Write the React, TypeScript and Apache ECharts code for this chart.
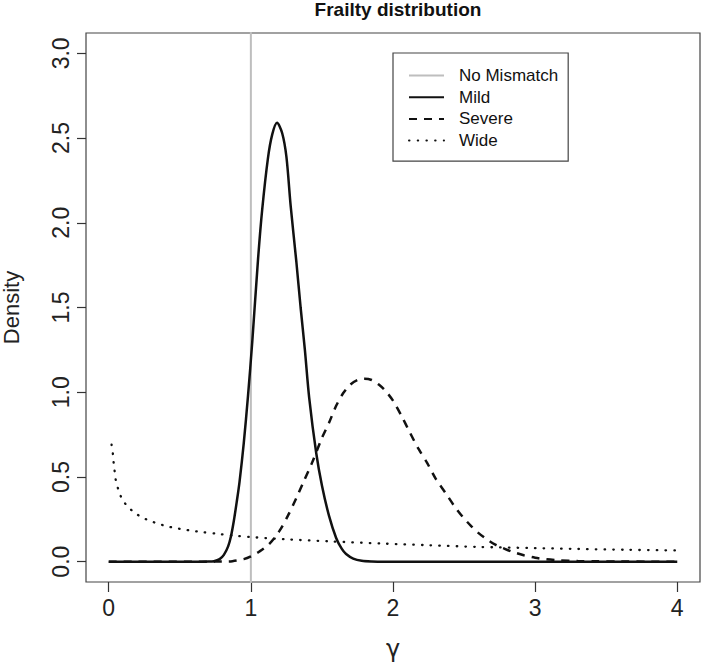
import React, { useEffect, useRef } from "react";
import * as echarts from "echarts";

const FONT = "'Liberation Sans', Arial, Helvetica, sans-serif";

const xTicks = [0, 1, 2, 3, 4];
const yTicks = [0, 0.5, 1.0, 1.5, 2.0, 2.5, 3.0];

const seriesNames = ["No Mismatch", "Mild", "Severe", "Wide"];

const noMismatch: [number, number][] = [
  [1, -0.2],
  [1, 3.3],
];

const mild: [number, number][] = [
  [0, 0], [0.6, 0], [0.7, 0.001], [0.74, 0.003], [0.78, 0.015], [0.81, 0.04],
  [0.84, 0.09], [0.86, 0.15], [0.88, 0.24], [0.9, 0.35], [0.92, 0.47],
  [0.95, 0.7], [0.98, 0.98], [1.01, 1.3], [1.05, 1.78], [1.08, 2.08],
  [1.12, 2.38], [1.15, 2.52], [1.184, 2.59], [1.22, 2.53], [1.25, 2.39],
  [1.28, 2.1], [1.32, 1.77], [1.35, 1.5], [1.38, 1.25], [1.41, 0.97],
  [1.46, 0.64], [1.5, 0.45], [1.55, 0.27], [1.6, 0.14], [1.64, 0.075],
  [1.67, 0.045], [1.72, 0.018], [1.78, 0.005], [1.85, 0.001], [1.95, 0], [4, 0],
];

const severe: [number, number][] = [
  [0, 0], [0.7, 0], [0.8, 0.001], [0.87, 0.003], [0.95, 0.015], [1.0, 0.031],
  [1.06, 0.06], [1.13, 0.105], [1.2, 0.18], [1.26, 0.27], [1.32, 0.375],
  [1.37, 0.47], [1.43, 0.583], [1.5, 0.73], [1.55, 0.82], [1.6, 0.92],
  [1.65, 0.995], [1.7, 1.045], [1.75, 1.072], [1.8, 1.08], [1.85, 1.072],
  [1.9, 1.045], [1.95, 1.005], [2.0, 0.95], [2.06, 0.86], [2.12, 0.76],
  [2.18, 0.665], [2.24, 0.583], [2.3, 0.49], [2.37, 0.405], [2.43, 0.33],
  [2.49, 0.265], [2.55, 0.21], [2.6, 0.17], [2.66, 0.132], [2.72, 0.1],
  [2.78, 0.078], [2.84, 0.058], [2.92, 0.038], [3.0, 0.023], [3.08, 0.014],
  [3.17, 0.008], [3.3, 0.004], [3.42, 0.002], [3.6, 0.001], [3.8, 0], [4, 0],
];

const wide: [number, number][] = [
  [0.02, 0.69], [0.03, 0.63], [0.035, 0.58], [0.042, 0.53], [0.05, 0.48],
  [0.068, 0.425], [0.09, 0.376], [0.125, 0.333], [0.17, 0.297], [0.22, 0.268],
  [0.28, 0.244], [0.34, 0.226], [0.4, 0.211], [0.46, 0.2], [0.52, 0.191],
  [0.58, 0.183], [0.65, 0.175], [0.77, 0.164], [0.9, 0.152], [1.0, 0.145],
  [1.25, 0.132], [1.55, 0.12], [1.95, 0.106], [2.25, 0.097], [2.6, 0.087],
  [3.0, 0.08], [3.3, 0.075], [3.65, 0.07], [4.0, 0.066],
];

export default function App() {
  const ref = useRef<HTMLDivElement>(null);
  useEffect(() => {
    if (!ref.current) return;
    const chart = echarts.init(ref.current, null, { renderer: "svg" });
    const axisText = { fontSize: 23, fontFamily: FONT, color: "#222" };
    chart.setOption({
      animation: false,
      title: {
        text: "Frailty distribution",
        left: 393,
        top: -5,
        textAlign: "center",
        textStyle: { fontSize: 19, fontWeight: "bold", fontFamily: FONT, color: "#111" },
      },
      grid: {
        left: 86,
        right: 2,
        top: 33,
        bottom: 82,
        outerBoundsMode: "none",
        containLabel: false,
        show: true,
        borderColor: "#444",
        borderWidth: 1.2,
      },
      legend: {
        orient: "vertical",
        left: 393,
        top: 53,
        padding: [14, 10, 12, 15],
        itemWidth: 35,
        itemHeight: 14,
        itemGap: 4.7,
        borderColor: "#444",
        borderWidth: 1.2,
        itemStyle: { opacity: 0 },
        textStyle: { fontSize: 17, fontFamily: FONT, color: "#111", padding: [0, 0, 0, 10] },
        data: seriesNames,
      },
      xAxis: {
        type: "value",
        min: -0.16,
        max: 4.16,
        name: "γ",
        nameLocation: "middle",
        nameGap: 55,
        nameTextStyle: { fontSize: 24, fontFamily: "'DejaVu Sans', sans-serif", color: "#222" },
        axisLine: { show: false, onZero: false },
        splitLine: { show: false },
        axisTick: { show: true, customValues: xTicks, length: 10, lineStyle: { color: "#333", width: 1.2 } },
        axisLabel: { ...axisText, customValues: xTicks, margin: 14, formatter: (v: number) => String(v) },
      },
      yAxis: {
        type: "value",
        min: -0.12,
        max: 3.12,
        name: "Density",
        nameLocation: "middle",
        nameGap: 64,
        nameTextStyle: { fontSize: 22, fontFamily: FONT, color: "#222" },
        axisLine: { show: false, onZero: false },
        splitLine: { show: false },
        axisTick: { show: true, customValues: yTicks, length: 9, lineStyle: { color: "#333", width: 1.2 } },
        axisLabel: { ...axisText, customValues: yTicks, rotate: 90, margin: 14, formatter: (v: number) => v.toFixed(1) },
      },
      series: [
        {
          name: "No Mismatch",
          type: "line",
          data: noMismatch,
          symbol: "none",
          lineStyle: { color: "#bebebe", width: 2 },
          itemStyle: { color: "#bebebe" },
        },
        {
          name: "Mild",
          type: "line",
          data: mild,
          symbol: "none",
          smooth: 0.3,
          lineStyle: { color: "#111", width: 2.5 },
          itemStyle: { color: "#111" },
        },
        {
          name: "Severe",
          type: "line",
          data: severe,
          symbol: "none",
          smooth: 0.3,
          lineStyle: { color: "#111", width: 2.5, type: [8, 7] },
          itemStyle: { color: "#111" },
        },
        {
          name: "Wide",
          type: "line",
          data: wide,
          symbol: "none",
          smooth: 0.3,
          lineStyle: { color: "#111", width: 2.3, type: [0.5, 8.2], cap: "round" },
          itemStyle: { color: "#111" },
        },
      ],
    });
    return () => chart.dispose();
  }, []);
  return (
    <div
      ref={ref}
      style={{ position: "absolute", left: 0, top: 0, width: 702, height: 664, background: "#fff" }}
    />
  );
}
